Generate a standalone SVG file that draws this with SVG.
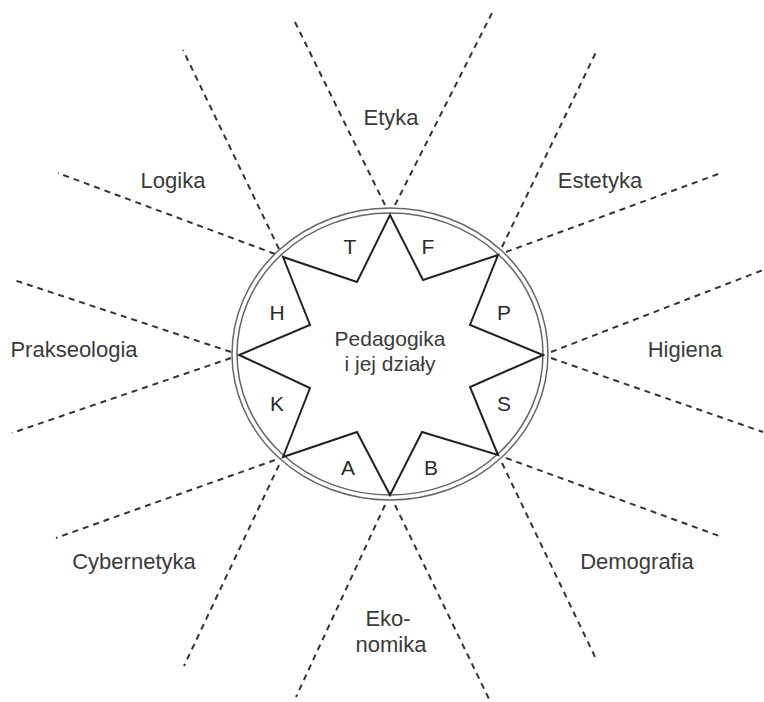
<svg xmlns="http://www.w3.org/2000/svg" width="764" height="702" viewBox="0 0 764 702">
<style>
.t{font-family:"Liberation Sans",Arial,sans-serif;font-size:22px;fill:#3a3a3a;text-anchor:middle}
.m{font-family:"Liberation Sans",Arial,sans-serif;font-size:21px;fill:#3a3a3a;text-anchor:middle}
.l{font-family:"Liberation Sans",Arial,sans-serif;font-size:21px;fill:#2a2a2a;text-anchor:middle}
.d{stroke:#333;stroke-width:2;stroke-dasharray:6 5;fill:none}
.c{fill:none;stroke:#666;stroke-width:1.5}
.s{fill:none;stroke:#222;stroke-width:2;stroke-linejoin:miter}
</style>
<rect width="764" height="702" fill="#fff"/>
<g id="connectors">
<line class="d" x1="385" y1="205" x2="293" y2="18"/>
<line class="d" x1="395" y1="205" x2="492" y2="13"/>
<line class="d" x1="279" y1="249" x2="183" y2="50"/>
<line class="d" x1="275" y1="254" x2="58" y2="173"/>
<line class="d" x1="502" y1="247" x2="597" y2="50"/>
<line class="d" x1="506" y1="252" x2="721" y2="173"/>
<line class="d" x1="551" y1="352" x2="763" y2="270"/>
<line class="d" x1="551" y1="358" x2="763" y2="432"/>
<line class="d" x1="231" y1="352" x2="14" y2="280"/>
<line class="d" x1="231" y1="358" x2="12" y2="433"/>
<line class="d" x1="275" y1="460" x2="56" y2="538"/>
<line class="d" x1="279" y1="465" x2="184" y2="666"/>
<line class="d" x1="506" y1="458" x2="722" y2="537"/>
<line class="d" x1="502" y1="463" x2="597" y2="661"/>
<line class="d" x1="385" y1="505" x2="296" y2="697"/>
<line class="d" x1="395" y1="505" x2="489" y2="699"/>
</g>
<g id="center">
<ellipse class="c" cx="390" cy="354" rx="158" ry="146"/>
<ellipse class="c" cx="390" cy="354" rx="153" ry="141"/>
<polygon class="s" points="390,215 423,280 498,255 470,325 543,355 470,387 498,455 422,432 390,495 357,432 283,457 310,388 239,355 310,325 283,257 357,282"/>
<text class="m" x="390" y="346">Pedagogika</text>
<text class="m" x="390" y="371">i jej działy</text>
</g>
<g id="sector-T"><text class="l" x="350" y="254">T</text></g>
<g id="sector-F"><text class="l" x="428" y="254">F</text></g>
<g id="sector-H"><text class="l" x="277" y="320">H</text></g>
<g id="sector-P"><text class="l" x="504" y="320">P</text></g>
<g id="sector-K"><text class="l" x="277" y="411">K</text></g>
<g id="sector-S"><text class="l" x="504" y="411">S</text></g>
<g id="sector-A"><text class="l" x="348" y="475">A</text></g>
<g id="sector-B"><text class="l" x="431" y="475">B</text></g>
<g id="etyka"><text class="t" x="391" y="125">Etyka</text></g>
<g id="logika"><text class="t" x="173" y="188">Logika</text></g>
<g id="estetyka"><text class="t" x="600" y="188">Estetyka</text></g>
<g id="prakseologia"><text class="t" x="74" y="357">Prakseologia</text></g>
<g id="higiena"><text class="t" x="685" y="357">Higiena</text></g>
<g id="cybernetyka"><text class="t" x="134" y="569">Cybernetyka</text></g>
<g id="demografia"><text class="t" x="637" y="569">Demografia</text></g>
<g id="ekonomika"><text class="t" x="388" y="626">Eko-</text><text class="t" x="391" y="652">nomika</text></g>
</svg>
